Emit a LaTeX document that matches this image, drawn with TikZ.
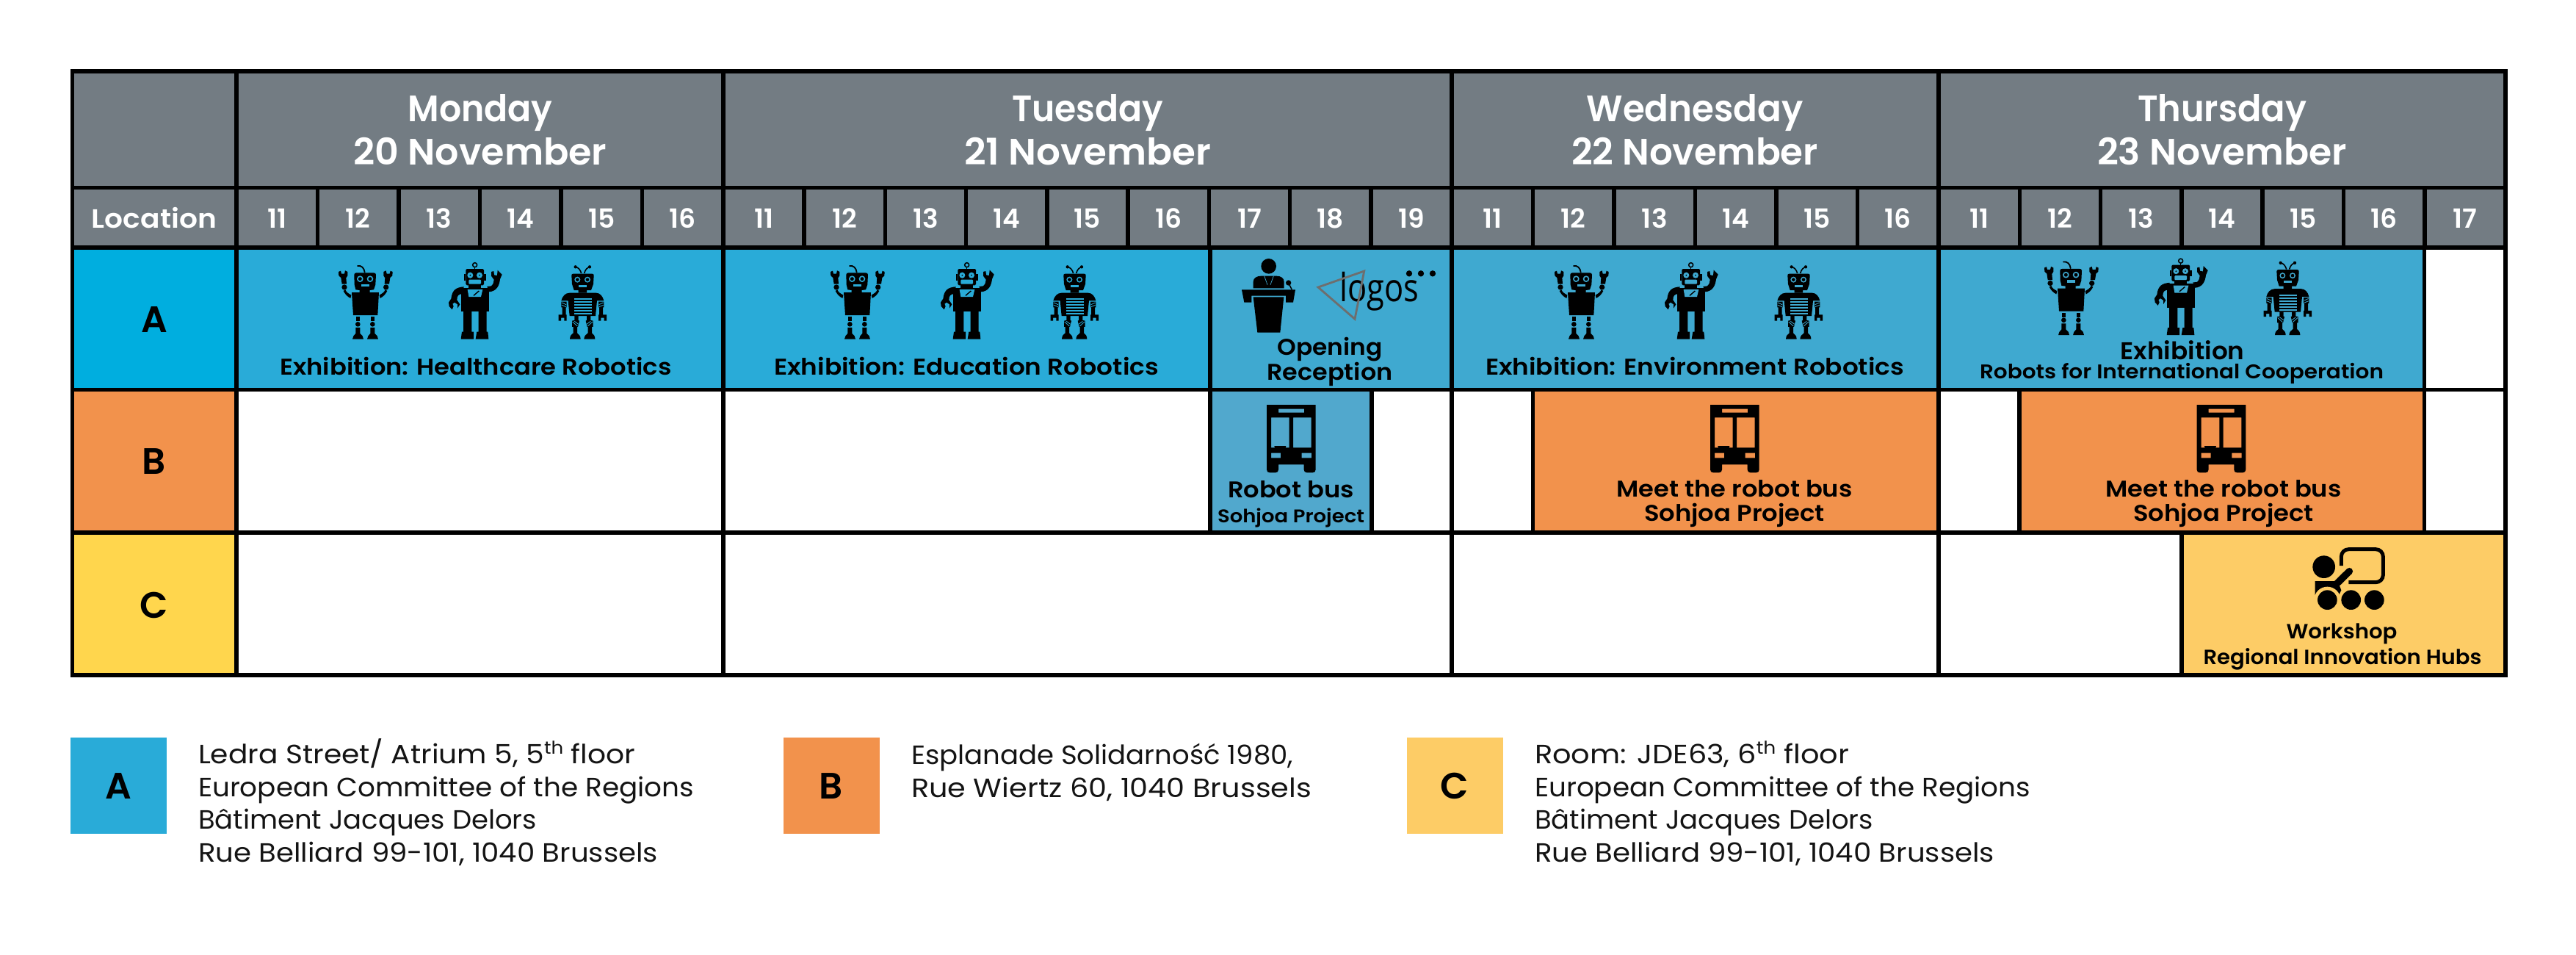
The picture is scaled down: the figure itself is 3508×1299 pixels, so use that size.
\documentclass[tikz,border=0pt]{standalone}
\usepackage{fontspec}
\usepackage{graphicx}
\setmainfont{Poppins}
\newfontfamily\psemi{Poppins SemiBold}
\newfontfamily\preg{Poppins}
\newfontfamily\logofont{Open Sans}
\definecolor{hdr}{HTML}{737C83}
\definecolor{locA}{HTML}{00AEDF}
\definecolor{locB}{HTML}{F2924C}
\definecolor{locC}{HTML}{FFD64D}
\definecolor{exA}{HTML}{29ABD8}
\definecolor{exB}{HTML}{3FA9D0}
\definecolor{busT}{HTML}{51A8CD}
\definecolor{shopC}{HTML}{FDCC66}
\definecolor{logoG}{HTML}{6E6E6E}
\newcommand\ft[3]{\fontsize{#1}{#1}\selectfont\resizebox{#2pt}{\height}{#3}}
\tikzset{
 gridcell/.style={draw=black,line width=5.5pt,inner sep=0pt,outer sep=0pt},
 plainbox/.style={inner sep=0pt,outer sep=0pt},
 lab/.style={inner sep=0pt,outer sep=0pt,anchor=base,font=\psemi,text=black},
 hlab/.style={lab,font=\psemi,text=white},
 addr/.style={inner sep=0pt,outer sep=0pt,anchor=base west,font=\preg,text=black!92},
 icon/.style={x=0.3333pt,y=-0.3333pt},
}
% name x0 y0 x1 y1 fill
\newcommand\cellbox[6]{%
 \node[gridcell,fill=#6,minimum width={(#4-#2)*1pt},minimum height={(#5-#3)*1pt}] (#1) at ({(#2+#4)/2},{(#3+#5)/2}) {};}
\newcommand\hourrow[5]{%
 \foreach \h [count=\k from 0] in {#3,...,#4}{%
  \pgfmathsetmacro\xa{#1+\k*#2}\pgfmathsetmacro\xb{#1+(\k+1)*#2}
  \node[gridcell,fill=hdr,minimum width={#2*1pt},minimum height=81.5pt] (#5\h) at ({(\xa+\xb)/2},296.25) {};
  \node[hlab] (#5t\h) at ({(\xa+\xb)/2},310) {\fontsize{36}{36}\selectfont \h};
 }}
% robot with raised arms
\newcommand\robotA[3]{\begin{scope}[shift={(#1,#2)},icon]
 \fill (112,72) .. controls (112,66) and (116,64) .. (122,64) -- (190,64) .. controls (197,64) and (201,66) .. (201,72) -- (199,112) -- (192,133) -- (176,135) -- (176,145) -- (134,145) -- (134,135) -- (118,133) -- (113,112) -- cycle;
 \fill (102,144) -- (213,144) -- (208,237) -- (108,237) -- cycle;
 \draw[line width=1.8pt,line cap=round] (155,62) .. controls (153,45) and (142,33) .. (126,36);
 \fill[#3] (136,89) circle (13);\fill (136,89) circle (7.5);
 \fill[#3] (177,89) circle (13);\fill (177,89) circle (7.5);
 \fill[#3] (141,110) rectangle (173,120);
 \fill (48,60) -- (57,56) -- (60,68) -- (72,68) -- (75,55) -- (85,60) -- (85,76) -- (79,85) -- (81,110) -- (62,110) -- (58,84) -- (49,76) -- cycle;
 \fill (269,60) -- (260,56) -- (257,68) -- (245,68) -- (242,55) -- (232,60) -- (232,76) -- (238,85) -- (236,110) -- (255,110) -- (259,84) -- (268,76) -- cycle;
 \fill (72,123) circle (11);\fill (242,123) circle (11);
 \fill (68,138) -- (76,133) .. controls (80,145) and (92,150) .. (100,155) -- (97,168) .. controls (82,160) and (74,150) .. (68,138) -- cycle;
 \fill (247,138) -- (239,133) .. controls (235,145) and (223,150) .. (215,155) -- (218,168) .. controls (233,160) and (241,150) .. (247,138) -- cycle;
 \foreach \d in {0,60}{
  \fill[xshift=\d*0.3333pt] (119,243) rectangle (136,262);
  \fill[xshift=\d*0.3333pt] (127,274) circle (10);
  \fill[xshift=\d*0.3333pt] (118,288) -- (136,288) -- (136,312) .. controls (144,318) and (150,325) .. (150,335) -- (105,335) .. controls (105,325) and (112,318) .. (118,312) -- cycle;
 }
\end{scope}}
% waving robot
\newcommand\robotB[3]{\begin{scope}[shift={(#1,#2)},icon]
 \draw[line width=1.5pt] (155,47) circle (9);
 \draw[line width=1.5pt] (155,56) -- (155,66);
 \fill[rounded corners=1.5pt] (118,63) rectangle (192,130);
 \fill (110,85) rectangle (118,110);\fill (192,85) rectangle (200,110);
 \fill[#3] (136,89) circle (12);\fill (136,89) circle (3);
 \fill[#3] (174,89) circle (12);\fill (174,89) circle (3);
 \fill[#3,rounded corners=1pt] (130,107) rectangle (180,125);
 \fill (130,130) rectangle (180,140);
 \fill (100,140) -- (212,140) -- (212,237) -- (100,237) -- cycle;
 \fill (110,136) .. controls (80,138) and (62,148) .. (58,185) -- (48,200) -- (50,216) -- (62,229) -- (68,216) -- (64,206) -- (72,200) -- (84,208) -- (84,224) -- (94,208) -- (82,190) .. controls (82,172) and (88,166) .. (105,165) -- cycle;
 \fill (205,135) -- (222,133) .. controls (230,125) and (233,118) .. (233,107) -- (222,92) -- (222,75) -- (232,72) -- (234,88) -- (246,90) -- (248,68) -- (266,86) -- (258,105) .. controls (255,130) and (245,155) .. (212,157) -- cycle;
 \fill[#3] (125,147) -- (187,147) -- (180,177) -- (130,177) -- cycle;
 \draw[line width=1.4pt] (150,172) -- (172,153);
 \fill (108,237) -- (142,237) -- (142,320) -- (150,320) -- (150,350) -- (98,350) -- (102,320) -- (108,320) -- cycle;
 \fill (170,237) -- (203,237) -- (203,320) -- (208,320) -- (211,350) -- (158,350) -- (163,320) -- (170,320) -- cycle;
\end{scope}}
% striped robot
\newcommand\robotC[3]{\begin{scope}[shift={(#1,#2)},icon]
 \draw[line width=1.6pt] (140,66) .. controls (136,52) and (128,42) .. (116,40);
 \draw[line width=1.6pt] (152,66) .. controls (156,52) and (162,44) .. (174,40);
 \fill (116,40) circle (6.5);\fill (174,40) circle (6.5);
 \fill (100,75) .. controls (100,70) and (102,68) .. (107,68) -- (184,68) .. controls (189,68) and (191,70) .. (191,75) -- (189,110) -- (180,135) -- (162,135) -- (162,146) -- (128,146) -- (128,135) -- (110,135) -- (102,110) -- cycle;
 \fill[#3] (124,92) circle (12);\fill (124,92) circle (7);
 \fill[#3] (165,92) circle (12);\fill (165,92) circle (7);
 \fill[#3] (130,113) rectangle (162,122);
 \fill (58,178) .. controls (62,160) and (75,146) .. (92,146) -- (200,146) .. controls (216,146) and (228,160) .. (232,178) -- (204,178) -- (198,240) -- (92,240) -- (86,178) -- cycle;
 \foreach \s in {169,181,193,205,217,229}{\fill[#3] (110,\s) rectangle (184,{\s+5});}
 % arms
 \fill (58,182) -- (80,182) -- (80,205) -- (77,205) -- (77,235) -- (80,235) -- (80,260) -- (70,260) -- (70,248) -- (57,248) -- (57,260) -- (47,260) -- (47,235) -- (62,235) -- (62,205) -- (58,205) -- cycle;
 \fill (232,182) -- (210,182) -- (210,205) -- (213,205) -- (213,235) -- (210,235) -- (210,260) -- (220,260) -- (220,248) -- (233,248) -- (233,260) -- (243,260) -- (243,235) -- (228,235) -- (228,205) -- (232,205) -- cycle;
 \draw[#3,line width=0.8pt] (60,186) -- (78,194) (60,196) -- (78,203);
 \draw[#3,line width=0.8pt] (230,186) -- (212,194) (230,196) -- (212,203);
 % legs
 \fill (112,240) -- (128,240) -- (128,258) -- (132,260) -- (126,285) -- (123,285) -- (123,310) .. controls (130,315) and (137,322) .. (137,335) -- (93,335) .. controls (93,322) and (100,315) .. (107,310) -- (107,285) -- (102,285) -- (102,260) -- (112,258) -- cycle;
 \fill (178,240) -- (162,240) -- (162,258) -- (158,260) -- (164,285) -- (167,285) -- (167,310) .. controls (160,315) and (151,322) .. (151,335) -- (196,335) .. controls (196,322) and (190,315) .. (183,310) -- (183,285) -- (188,285) -- (188,260) -- (178,258) -- cycle;
 \draw[#3,line width=0.8pt] (104,264) -- (124,282) (112,262) -- (128,274);
 \draw[#3,line width=0.8pt] (186,264) -- (166,282) (178,262) -- (162,274);
\end{scope}}
\newcommand\busicon[2]{\begin{scope}[shift={(#1,#2)},icon]
 \fill[even odd rule] (75,33) -- (275,33) -- (275,298) .. controls (275,306) and (270,310) .. (263,310) -- (239,310) .. controls (232,310) and (227,306) .. (227,298) -- (227,277) -- (123,277) -- (123,298) .. controls (123,306) and (118,310) .. (111,310) -- (87,310) .. controls (80,310) and (75,306) .. (75,298) -- cycle
  (123,50) rectangle (228,65) (93,85) rectangle (167,208) (183,85) rectangle (257,208) (93,230) rectangle (132,250) (218,230) rectangle (258,250);
 \fill (106,201) arc[start angle=180,end angle=0,x radius=24,y radius=21] -- cycle;
\end{scope}}
\begin{document}
\begin{tikzpicture}[x=1pt,y=-1pt]
\useasboundingbox (0,0) rectangle (3508,1299);
% header
\cellbox{hcorner}{98.5}{97}{322}{255.5}{hdr}
\cellbox{hmon}{322}{97}{985}{255.5}{hdr}
\cellbox{htue}{985}{97}{1977}{255.5}{hdr}
\cellbox{hwed}{1977}{97}{2640}{255.5}{hdr}
\cellbox{hthu}{2640}{97}{3412}{255.5}{hdr}
\cellbox{hloc}{98.5}{255.5}{322}{337}{hdr}
\hourrow{322}{110.5}{11}{16}{m}
\hourrow{985}{110.22}{11}{19}{t}
\hourrow{1977}{110.5}{11}{16}{w}
\hourrow{2640}{110.29}{11}{17}{h}
% row A
\cellbox{la}{98.5}{337}{322}{530.5}{locA}
\cellbox{amon}{322}{337}{985}{530.5}{exA}
\cellbox{atue}{985}{337}{1648}{530.5}{exA}
\cellbox{aopen}{1648}{337}{1977}{530.5}{exB}
\cellbox{awed}{1977}{337}{2640}{530.5}{exB}
\cellbox{athu}{2640}{337}{3301.5}{530.5}{exB}
\cellbox{aend}{3301.5}{337}{3412}{530.5}{white}
% row B
\cellbox{lb}{98.5}{530.5}{322}{725}{locB}
\cellbox{bmon}{322}{530.5}{985}{725}{white}
\cellbox{btue}{985}{530.5}{1648}{725}{white}
\cellbox{bbus}{1648}{530.5}{1868}{725}{busT}
\cellbox{bgap}{1868}{530.5}{1977}{725}{white}
\cellbox{bwg}{1977}{530.5}{2087.5}{725}{white}
\cellbox{bwed}{2087.5}{530.5}{2640}{725}{locB}
\cellbox{btg}{2640}{530.5}{2750}{725}{white}
\cellbox{bthu}{2750}{530.5}{3301.5}{725}{locB}
\cellbox{bend}{3301.5}{530.5}{3412}{725}{white}
% row C
\cellbox{lc}{98.5}{725}{322}{919}{locC}
\cellbox{cmon}{322}{725}{985}{919}{white}
\cellbox{ctue}{985}{725}{1977}{919}{white}
\cellbox{cwed}{1977}{725}{2640}{919}{white}
\cellbox{cthu}{2640}{725}{2971}{919}{white}
\cellbox{cshop}{2971}{725}{3412}{919}{shopC}
% header text
\node[hlab] (tmon1) at (654,165) {\ft{50}{197}{Monday}};
\node[hlab] (tmon2) at (654,224) {\ft{50}{345}{20 November}};
\node[hlab] (ttue1) at (1481,165) {\ft{50}{206}{Tuesday}};
\node[hlab] (ttue2) at (1481,224) {\ft{50}{336}{21 November}};
\node[hlab] (twed1) at (2308,165) {\ft{50}{295}{Wednesday}};
\node[hlab] (twed2) at (2308,224) {\ft{50}{336}{22 November}};
\node[hlab] (tthu1) at (3026,165) {\ft{50}{230}{Thursday}};
\node[hlab] (tthu2) at (3026,224) {\ft{50}{340}{23 November}};
\node[hlab] (tloc) at (210,310) {\ft{36}{170}{Location}};
\node[lab] (ta) at (210,452) {\fontsize{50}{50}\selectfont A};
\node[lab] (tb) at (210,645) {\fontsize{50}{50}\selectfont B};
\node[lab] (tc) at (210,841) {\fontsize{50}{50}\selectfont C};
% row text
\node[lab] (e1) at (648,510) {\ft{31}{533}{Exhibition: Healthcare Robotics}};
\node[lab] (e2) at (1316,510) {\ft{31}{524}{Exhibition: Education Robotics}};
\node[lab] (o1) at (1811,483) {\ft{31}{143}{Opening}};
\node[lab] (o2) at (1811,517) {\ft{31}{171}{Reception}};
\node[lab] (e3) at (2308,510) {\ft{31}{570}{Exhibition: Environment Robotics}};
\node[lab] (e4) at (2972,489) {\ft{33}{169}{Exhibition}};
\node[lab] (e5) at (2971,515) {\ft{27}{550}{Robots for International Cooperation}};
\node[lab] (r1) at (1758,677) {\ft{31}{172}{Robot bus}};
\node[lab] (r2) at (1758,711) {\ft{25}{200}{Sohjoa Project}};
\node[lab] (m1) at (2362,676) {\ft{31}{321}{Meet the robot bus}};
\node[lab] (m2) at (2362,709) {\ft{31}{246}{Sohjoa Project}};
\node[lab] (m3) at (3028,676) {\ft{31}{321}{Meet the robot bus}};
\node[lab] (m4) at (3028,709) {\ft{31}{246}{Sohjoa Project}};
\node[lab] (w1) at (3189,869) {\ft{28}{151}{Workshop}};
\node[lab] (w2) at (3190,904) {\ft{28}{379}{Regional Innovation Hubs}};
% robots
\robotA{445}{350}{exA}\robotB{595}{345}{exA}\robotC{745}{350}{exA}
\robotA{1115}{350}{exA}\robotB{1265}{345}{exA}\robotC{1415}{350}{exA}
\robotA{2101}{350}{exB}\robotB{2251}{345}{exB}\robotC{2401}{350}{exB}
\robotA{2768}{344.5}{exB}\robotB{2918}{339.5}{exB}\robotC{3067}{344.5}{exB}
% speaker and logo
\begin{scope}[shift={(1680,345)},icon]
 \fill (143,52) circle (31);
 \fill (80,142) -- (80,116) .. controls (80,100) and (95,92) .. (112,92) -- (175,92) .. controls (192,92) and (206,100) .. (206,116) -- (206,142) -- cycle;
 \draw[exB,line width=0.7pt] (125,92) -- (138,128) (163,92) -- (150,128);
 \fill (33,148) -- (252,148) -- (243,200) -- (213,200) -- (213,173) -- (73,173) -- (73,200) -- (43,200) -- cycle;
 \fill (80,178) -- (205,178) -- (190,323) -- (97,323) -- cycle;
 \draw[line width=1.5pt] (226,125) -- (238,148);
 \fill (224,120) circle (11);
 \fill (717,82) circle (12.5);\fill (765,82) circle (12.5);\fill (813,82) circle (12.5);
\end{scope}
\node[inner sep=0pt,outer sep=0pt,anchor=base west,font=\logofont,text=black] (logotxt) at (1824,410.5) {\fontsize{53}{53}\selectfont\resizebox{108pt}{\height}{logos}};
\coordinate (la1) at (1795,391);\coordinate (la2) at (1857.7,369);\coordinate (la3) at (1845,434.3);
\draw[logoG,line width=2.8pt,line join=miter] (la1) -- (la2) -- (la3) -- cycle;
% buses
\busicon{1700}{540}\busicon{2304}{540}\busicon{2966.6}{540}
% workshop icon
\begin{scope}[shift={(3130,735)},icon]
 \draw[line width=5pt,rounded corners=10pt] (175,105) -- (175,38) -- (346,38) -- (346,173) -- (205,173);
 \fill (104,110) circle (46);
 \draw[line width=9.5pt,line cap=round] (208,128) -- (150,185);
 \fill (68,168) -- (160,168) -- (175,205) -- (165,225) -- (68,225) -- cycle;
 \fill[shopC] (118,245) circle (54);
 \fill (118,245) circle (40);
 \fill (215,245) circle (40);
 \fill (310,245) circle (40);
\end{scope}
% legend
\node[plainbox,fill=exA,minimum width=131pt,minimum height=131pt] (ka) at (161,1069.5) {};
\node[plainbox,fill=locB,minimum width=131pt,minimum height=131pt] (kb) at (1132,1069.5) {};
\node[plainbox,fill=shopC,minimum width=131pt,minimum height=131pt] (kc) at (1981,1069.5) {};
\node[lab] (kat) at (161,1087) {\fontsize{50}{50}\selectfont A};
\node[lab] (kbt) at (1132,1087) {\fontsize{50}{50}\selectfont B};
\node[lab] (kct) at (1981,1087) {\fontsize{50}{50}\selectfont C};
\newcommand\sth{\raisebox{13pt}{\fontsize{24}{24}\selectfont th}}
\node[addr] (a1) at (270,1039) {\ft{36}{595}{Ledra Street/ Atrium 5, 5\sth{} floor}};
\node[addr] (a2) at (270,1084) {\ft{36}{675}{European Committee of the Regions}};
\node[addr] (a3) at (270,1128) {\ft{36}{461}{Bâtiment Jacques Delors}};
\node[addr] (a4) at (270,1173) {\ft{36}{626}{Rue Belliard 99-101, 1040 Brussels}};
\node[addr] (b1) at (1241,1040) {\ft{36}{520}{Esplanade Solidarność 1980,}};
\node[addr] (b2) at (1241,1085) {\ft{36}{545}{Rue Wiertz 60, 1040 Brussels}};
\node[addr] (c1) at (2090,1039) {\ft{36}{428}{Room: JDE63, 6\sth{} floor}};
\node[addr] (c2) at (2090,1084) {\ft{36}{675}{European Committee of the Regions}};
\node[addr] (c3) at (2090,1128) {\ft{36}{461}{Bâtiment Jacques Delors}};
\node[addr] (c4) at (2090,1173) {\ft{36}{626}{Rue Belliard 99-101, 1040 Brussels}};
\end{tikzpicture}
\end{document}
